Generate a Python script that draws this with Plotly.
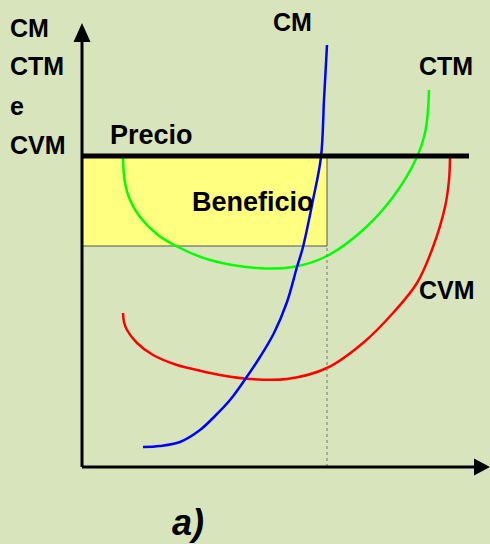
import plotly.graph_objects as go

# quantity / cost values in chart units (origin at the axes corner)
cm_q = [61, 78, 98, 118, 133, 148, 164, 178, 192, 205, 215, 221, 231, 239, 242, 245]
cm_c = [20, 21, 25, 37, 51, 67, 89, 110, 134, 165, 200, 220, 267, 310, 367, 422]

ctm_q = [41, 43, 48, 58, 76, 96, 128, 175, 211, 245, 281, 311, 335, 343, 346, 347]
ctm_c = [309, 284, 267, 250, 232, 220, 207, 199, 200, 211, 237, 270, 310, 334, 357, 377]

cvm_q = [41, 42, 45, 55, 71, 95, 115, 138, 168, 205, 245, 281, 311, 335, 351, 363, 367, 368]
cvm_c = [154, 145, 137, 124, 112, 102, 97, 92, 88, 88, 99, 124, 154, 184, 220, 260, 287, 309]

precio = 311
q_optima = 245
ctm_optimo = 221
precio_fin = 387

bg = "#D8E4BC"
fam = "Liberation Sans, Arial, sans-serif"

fig = go.Figure()

# beneficio rectangle
fig.add_shape(type="rect", x0=0, x1=q_optima, y0=ctm_optimo, y1=precio,
              fillcolor="#FFFF80", line=dict(color="#555555", width=1), layer="below")
fig.add_shape(type="line", x0=q_optima, x1=q_optima, y0=0, y1=ctm_optimo,
              line=dict(color="#777777", width=1, dash="dot"))

curve = dict(width=2.5, shape="spline", smoothing=1.0)
fig.add_trace(go.Scatter(x=ctm_q, y=ctm_c, mode="lines", line=dict(color="#00FF00", **curve)))
fig.add_trace(go.Scatter(x=cvm_q, y=cvm_c, mode="lines", line=dict(color="#FF0000", **curve)))
fig.add_trace(go.Scatter(x=cm_q, y=cm_c, mode="lines", line=dict(color="#0000FF", **curve)))

# price line
fig.add_shape(type="line", x0=0, x1=precio_fin, y0=precio, y1=precio,
              line=dict(color="black", width=5))

# axes with arrow heads
fig.add_shape(type="line", x0=0, x1=0, y0=0, y1=428, line=dict(color="black", width=3))
fig.add_shape(type="line", x0=0, x1=394, y0=0, y1=0, line=dict(color="black", width=3))
fig.add_shape(type="path", path="M -8.5 425 L 8.5 425 L 0 444 Z", fillcolor="black", line=dict(width=0))
fig.add_shape(type="path", path="M 392 8.5 L 392 -8.5 L 408 0 Z", fillcolor="black", line=dict(width=0))

labels = [
    ("CM", -74, 439, 25), ("CTM", -74, 401, 25), ("e", -74, 361, 25), ("CVM", -74, 322, 25),
    ("Precio", 26, 332, 27), ("Beneficio", 108, 265, 27),
    ("CM", 189, 445, 25), ("CTM", 335, 401, 25), ("CVM", 335, 177, 25),
]
for txt, x, y, s in labels:
    fig.add_annotation(x=x, y=y, text="<b>" + txt + "</b>", showarrow=False,
                       xanchor="left", yanchor="middle",
                       font=dict(family=fam, size=s, color="black"))

fig.add_annotation(x=88, y=-55, text="<b><i>a)</i></b>", showarrow=False,
                   xanchor="left", yanchor="middle",
                   font=dict(family=fam, size=36, color="black"))

fig.update_layout(
    width=490, height=544,
    margin=dict(l=0, r=0, t=0, b=0),
    paper_bgcolor=bg, plot_bgcolor=bg,
    showlegend=False,
    xaxis=dict(range=[-82, 408], visible=False, fixedrange=True),
    yaxis=dict(range=[-77, 467], visible=False, fixedrange=True),
)

fig.write_html("out.html", config={"displayModeBar": False},
               post_script="document.body.style.margin='0';")
